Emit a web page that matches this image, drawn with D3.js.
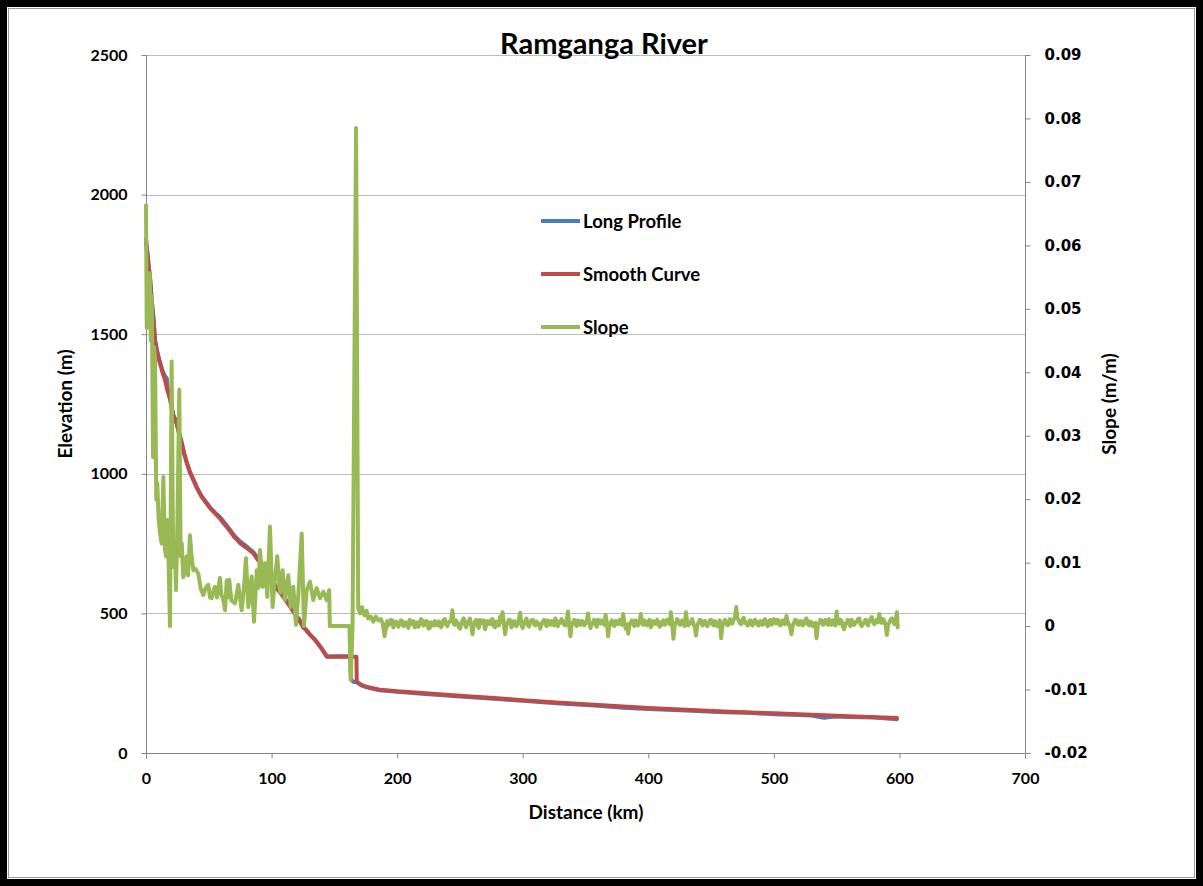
<!DOCTYPE html>
<html>
<head>
<meta charset="utf-8">
<script src="https://cdn.jsdelivr.net/npm/d3@7"></script>
<style>
  html, body { margin: 0; padding: 0; background: #fff; }
  svg { display: block; }
</style>
</head>
<body>
<svg id="chart" width="1203" height="886"></svg>
<script>
// ---------------- DATA ----------------
const title = "Ramganga River";
const seriesNames = ["Long Profile", "Smooth Curve", "Slope"];
const xTicks = [0, 100, 200, 300, 400, 500, 600, 700];
const yLeftTicks = [0, 500, 1000, 1500, 2000, 2500];
const yRightTicks = [-0.02, -0.01, 0, 0.01, 0.02, 0.03, 0.04, 0.05, 0.06, 0.07, 0.08, 0.09];

// Long Profile: [distance km, elevation m]
const longProfile = [
  [0,1840],[1,1800],[2,1752],[3.2,1705],[4.5,1625],[5.8,1565],[7.2,1480],[9,1438],[11.1,1400],
  [13,1372],[15,1350],[16.5,1342],[17.5,1300],[19.1,1270],[21.7,1212],[24.4,1183],[26,1152],
  [28.4,1113],[30.5,1072],[32.4,1042],[35,1007],[37.7,980],[41,947],[44.3,920],[48,898],[51,880],
  [55,861],[58.9,845],[62,828],[66.9,800],[70,780],[74.9,758],[80,740],[85.4,720],[89,698],
  [93.4,672],[98.7,633],[104,594],[109.3,563],[114.7,527],[118,505],[120,490],[122,480],
  [125.3,448],[128,440],[130.6,424],[134.6,406],[140,374],[144,346],[162,347],[162.5,350],
  [163.2,265],[165,255],[167.8,253],[172,241],[176,235],[180,231],[186,225],[200,219],[220,212],
  [250,202],[280,193],[300,187],[330,177],[360,169],[380,162],[400,158],[430,152],[460,146],
  [480,144],[500,139],[520,136],[530,134],[540,126],[548,131],[560,129],[580,127],[598,121]
];

// Smooth Curve: [distance km, elevation m]
const smoothCurve = [
  [0,1825],[1,1792],[2,1745],[3.2,1700],[4.5,1620],[5.8,1560],[7.2,1475],[9,1430],[11.1,1397],
  [13,1365],[15.1,1336],[17,1300],[19.1,1268],[21.7,1210],[24.4,1180],[26,1150],[28.4,1110],
  [30.5,1070],[32.4,1040],[35,1005],[37.7,978],[41,945],[44.3,918],[48,895],[51,877],[55,858],
  [58.9,840],[62,822],[66.9,795],[70,775],[74.9,752],[80,735],[85.4,716],[89,692],[93.4,667],
  [98.7,628],[104,590],[109.3,560],[114.7,524],[120,488],[125.3,452],[130.6,423],[134.6,405],
  [140,373],[144,345],[167.6,345],[167.8,255],[172,243],[176,237],[180,233],[186,227],[200,221],
  [220,215],[250,205],[280,196],[300,189],[330,180],[360,172],[400,161],[430,155],[460,149],
  [500,142],[530,137],[560,132],[598,125]
];

// Slope, upper reach: [distance km, slope m/m]
const slopeHead = [
  [0,0.0663],[0.6,0.047],[1.2,0.054],[2.0,0.049],[3.0,0.0556],[3.8,0.045],[4.6,0.052],[5.6,0.0266],
  [6.4,0.044],[7.2,0.042],[8.2,0.0199],[9.0,0.0225],[10,0.017],[11.1,0.0147],[12.5,0.013],
  [13.8,0.0235],[15.1,0.012],[16,0.011],[17,0.0167],[18,0.010],[19.1,0.0],[20.4,0.0417],
  [21.7,0.0093],[23,0.012],[23.9,0.0057],[25,0.016],[26.5,0.0373],[27.6,0.011],[28.5,0.013],
  [29.7,0.0077],[31,0.009],[32.4,0.011],[33.5,0.008],[35,0.0143],[36.3,0.011],[37.7,0.0088],
  [39.5,0.009],[41.6,0.0083],[43.5,0.006],[45.6,0.0049],[47.5,0.006],[49.6,0.0065],[51,0.0045],
  [52.3,0.0044],[54,0.0058],[54.9,0.0062],[56.5,0.0045],[58.9,0.0076],[60,0.005],[61.6,0.0041],
  [62.9,0.0025],[64.3,0.0072],[65.5,0.0045],[66.3,0.0073],[68,0.004],[70.9,0.0036],[73.5,0.0065],
  [76.2,0.0025],[78,0.006],[79.6,0.0107],[81.5,0.003],[84.1,0.0078],[86,0.0007],[88.2,0.0088],
  [89.5,0.006],[90.8,0.012],[92.9,0.0062],[94.8,0.0099],[96.6,0.0046],[98.7,0.0157],[100.8,0.003],
  [102.7,0.0075],[104.5,0.011],[106.7,0.0052],[108.8,0.0088],[110.7,0.0041],[113.3,0.008],
  [115.2,0.003],[117.3,0.0062],[119.4,0.0002],[121.3,0.0049],[124,0.0146],[125.8,0.0],
  [128,0.0057],[130.6,0.007],[133.2,0.0041],[135.9,0.006],[138.6,0.0044],[141.2,0.0054],
  [143.8,0.0041],[145.9,0.0057],[146.4,0.0],[162,0.0],[163,-0.0085],[164.5,0.0],[167.3,0.0785],
  [169,0.0028],[170.5,0.002],[172,0.003],[174,0.0017],[175.7,0.0024],[177,0.0012],[179,0.0015],
  [181,0.0007],[183,0.0015],[185,0.0009],[187,0.0011],[188.5,0.0004]
];

// Slope, lower reach: values every 1 km from 190 km to 598 km
const slopeTailStart = 190;
const slopeTailStep = 1;
const slopeTail = [
  -0.0016,-0.0004,0.0008,0.0001,0.0004,0.0010,0.0009,-0.0002,0.0002,0.0007,0.0006,-0.0001,0.0003,0.0009,0.0008,0.0000,0.0001,0.0006,0.0005,-0.0003,
  0.0010,0.0004,0.0003,0.0008,-0.0002,0.0005,0.0006,-0.0001,0.0004,0.0011,0.0009,0.0001,0.0002,0.0008,0.0007,-0.0004,-0.0003,0.0006,0.0005,0.0001,
  0.0008,0.0002,0.0001,0.0007,0.0006,-0.0002,0.0003,0.0010,0.0011,0.0003,0.0000,0.0006,0.0007,0.0010,0.0025,0.0004,0.0002,0.0009,0.0005,-0.0001,
  -0.0004,0.0003,0.0009,0.0012,0.0003,-0.0002,0.0006,0.0008,0.0012,0.0001,-0.0013,0.0002,0.0007,0.0010,0.0002,-0.0003,0.0010,0.0005,0.0004,0.0009,
  -0.0005,0.0002,0.0008,0.0004,0.0003,0.0010,0.0011,0.0000,-0.0002,0.0007,0.0006,0.0001,0.0015,0.0006,0.0022,0.0003,-0.0013,0.0002,0.0005,0.0010,
  0.0009,-0.0002,0.0001,0.0008,0.0006,0.0000,0.0004,0.0011,0.0021,0.0002,-0.0003,0.0005,0.0008,0.0012,0.0002,-0.0001,0.0006,0.0009,0.0010,0.0003,
  0.0001,0.0007,0.0005,0.0002,-0.0004,0.0004,0.0007,0.0010,0.0003,0.0000,0.0009,0.0006,0.0002,0.0008,0.0006,0.0001,0.0012,0.0004,0.0000,0.0007,
  0.0005,0.0011,0.0008,0.0002,0.0001,0.0009,0.0023,0.0003,-0.0016,0.0002,0.0006,0.0010,0.0003,0.0000,0.0009,0.0005,0.0002,0.0008,0.0007,0.0001,
  0.0004,0.0008,0.0020,0.0004,-0.0003,0.0003,0.0006,0.0010,0.0002,-0.0001,0.0010,0.0007,0.0004,0.0009,0.0007,0.0002,0.0018,0.0005,-0.0016,0.0001,
  0.0005,0.0009,0.0002,0.0000,0.0008,0.0006,0.0003,0.0010,0.0006,0.0002,0.0019,0.0004,-0.0004,0.0003,-0.0012,0.0002,0.0006,0.0009,0.0003,0.0000,
  0.0009,0.0006,0.0001,0.0005,0.0019,0.0006,0.0002,0.0009,0.0007,0.0001,0.0004,0.0010,-0.0002,0.0003,0.0008,0.0005,0.0003,0.0010,0.0006,-0.0001,
  0.0001,0.0007,0.0009,0.0002,0.0004,0.0010,0.0007,0.0003,0.0022,0.0005,-0.0020,0.0001,0.0005,0.0011,0.0008,0.0002,0.0002,0.0009,0.0006,0.0000,
  0.0022,0.0006,0.0001,0.0004,0.0007,0.0011,0.0003,-0.0001,-0.0015,0.0002,0.0005,0.0010,0.0009,0.0001,0.0002,0.0008,0.0006,0.0000,0.0004,0.0009,
  0.0010,0.0003,0.0001,0.0008,0.0006,0.0000,0.0003,0.0009,-0.0019,0.0000,0.0004,0.0010,0.0007,0.0001,0.0002,0.0011,0.0008,0.0004,0.0011,0.0013,
  0.0030,0.0012,0.0009,0.0004,0.0003,0.0010,0.0013,0.0005,0.0006,0.0001,0.0002,0.0009,0.0008,0.0001,0.0004,0.0010,0.0007,0.0002,0.0001,0.0008,
  0.0006,0.0002,0.0009,0.0011,0.0003,0.0000,0.0007,0.0010,0.0002,0.0004,0.0011,0.0006,0.0004,0.0010,0.0008,0.0001,0.0002,0.0009,0.0006,0.0003,
  0.0016,0.0007,0.0003,-0.0002,-0.0013,0.0001,0.0005,0.0010,0.0009,0.0002,0.0002,0.0008,0.0007,0.0001,0.0004,0.0010,0.0012,0.0003,0.0001,0.0007,
  0.0006,0.0000,0.0003,0.0005,-0.0019,0.0001,0.0005,0.0010,0.0009,0.0002,0.0003,0.0010,0.0007,0.0002,0.0011,0.0006,0.0002,0.0009,0.0006,0.0001,
  0.0023,0.0005,0.0004,0.0010,0.0008,-0.0001,-0.0005,0.0003,0.0006,0.0010,0.0003,0.0000,0.0010,0.0007,0.0002,0.0005,0.0007,0.0011,0.0012,0.0003,
  0.0000,0.0004,0.0006,0.0010,0.0004,0.0001,0.0009,0.0011,0.0014,0.0006,0.0003,0.0008,0.0010,0.0006,0.0019,0.0008,0.0005,0.0011,0.0008,0.0002,
  -0.0014,0.0002,0.0006,0.0010,0.0012,0.0007,0.0003,0.0009,0.0022
];
const slopeEnd = [[598.6,-0.0002]];

// ---------------- DRAW ----------------
const W = 1203, H = 886;
const plot = { left: 146, right: 1025, top: 55, bottom: 753 };
const colors = { blue: "#4A7EBB", red: "#BE4B48", green: "#98B954" };
const calibri = "Lato, 'Open Sans', sans-serif";
const lineW = 4;

const svg = d3.select("#chart");

const x = d3.scaleLinear().domain([0, 700]).range([plot.left, plot.right]);
const yL = d3.scaleLinear().domain([0, 2500]).range([plot.bottom, plot.top]);
const yR = d3.scaleLinear().domain([-0.02, 0.09]).range([plot.bottom, plot.top]);

// background & frame
svg.append("rect").attr("x", 0).attr("y", 0).attr("width", W).attr("height", H).attr("fill", "#fff");
svg.append("rect").attr("x", 8.5).attr("y", 8.5).attr("width", W - 17).attr("height", H - 17)
  .attr("fill", "none").attr("stroke", "#9a9a9a").attr("stroke-width", 1);
svg.append("rect").attr("x", 3.5).attr("y", 3.5).attr("width", W - 7).attr("height", H - 7)
  .attr("fill", "none").attr("stroke", "#000").attr("stroke-width", 7);

// gridlines (left axis majors)
svg.append("g").selectAll("line").data(yLeftTicks.filter(d => d > 0)).join("line")
  .attr("x1", plot.left).attr("x2", plot.right)
  .attr("y1", d => Math.round(yL(d)) + 0.5).attr("y2", d => Math.round(yL(d)) + 0.5)
  .attr("stroke", "#bdbdbd").attr("stroke-width", 1.2);

// axes
const axisColor = "#868686";
const hyphenFmt = d => Math.abs(d) < 1e-9 ? "0" : (d < 0 ? "-" : "") + Math.abs(d).toFixed(2);
const gx = svg.append("g").attr("transform", `translate(0,${plot.bottom + 0.5})`)
  .call(d3.axisBottom(x).tickValues(xTicks).tickSize(5).tickPadding(14).tickFormat(d3.format("d")));
const gl = svg.append("g").attr("transform", `translate(${plot.left + 0.5},0)`)
  .call(d3.axisLeft(yL).tickValues(yLeftTicks).tickSize(5).tickPadding(14).tickFormat(d3.format("d")));
const gr = svg.append("g").attr("transform", `translate(${plot.right + 0.5},0)`)
  .call(d3.axisRight(yR).tickValues(yRightTicks).tickSize(5).tickPadding(14).tickFormat(hyphenFmt));

[gx, gl, gr].forEach(g => {
  g.select(".domain").attr("stroke", axisColor).attr("stroke-width", 1);
  g.selectAll(".tick line").attr("stroke", axisColor).attr("stroke-width", 1);
});
gx.selectAll(".tick text").attr("font-family", calibri).attr("font-weight", "bold")
  .attr("font-size", 16).attr("fill", "#000");
gl.selectAll(".tick text").attr("font-family", calibri).attr("font-weight", "bold")
  .attr("font-size", 16).attr("fill", "#000");
gr.selectAll(".tick text").attr("font-family", "'DejaVu Sans', Verdana, sans-serif").attr("font-weight", "bold")
  .attr("font-size", 15).attr("fill", "#000");
gl.select(".domain").attr("d", `M0,${plot.top}V${plot.bottom}`);
gr.select(".domain").attr("d", `M0,${plot.top}V${plot.bottom}`);
gx.select(".domain").attr("d", `M${plot.left},0H${plot.right}`);

// series
const lineL = d3.line().x(d => x(d[0])).y(d => yL(d[1]));
const lineR = d3.line().x(d => x(d[0])).y(d => yR(d[1]));

const slopeData = slopeHead
  .concat(slopeTail.map((v, i) => [slopeTailStart + i * slopeTailStep, v]))
  .concat(slopeEnd);

const plotG = svg.append("g").attr("fill", "none")
  .attr("stroke-linejoin", "round").attr("stroke-linecap", "round");
plotG.append("path").datum(longProfile).attr("d", lineL)
  .attr("stroke", colors.blue).attr("stroke-width", lineW);
plotG.append("path").datum(smoothCurve).attr("d", lineL)
  .attr("stroke", colors.red).attr("stroke-width", lineW);
plotG.append("path").datum(slopeData).attr("d", lineR)
  .attr("stroke", colors.green).attr("stroke-width", lineW);

// title
svg.append("text").attr("x", 604).attr("y", 54).attr("text-anchor", "middle")
  .attr("font-family", calibri).attr("font-weight", "bold").attr("font-size", 29)
  .attr("fill", "#000").text(title);

// axis titles
const axisTitleSize = 19;
svg.append("text").attr("x", 586).attr("y", 819).attr("text-anchor", "middle")
  .attr("font-family", calibri).attr("font-weight", "bold").attr("font-size", axisTitleSize)
  .attr("fill", "#000").text("Distance (km)");
svg.append("text").attr("transform", `translate(72,404) rotate(-90)`).attr("text-anchor", "middle")
  .attr("font-family", calibri).attr("font-weight", "bold").attr("font-size", axisTitleSize)
  .attr("fill", "#000").text("Elevation (m)");
svg.append("text").attr("transform", `translate(1116,404) rotate(-90)`).attr("text-anchor", "middle")
  .attr("font-family", calibri).attr("font-weight", "bold").attr("font-size", axisTitleSize)
  .attr("fill", "#000").text("Slope (m/m)");

// legend
const legendColors = [colors.blue, colors.red, colors.green];
const legendY = [221, 274, 327];
const lg = svg.append("g");
seriesNames.forEach((name, i) => {
  lg.append("line").attr("x1", 541).attr("x2", 580).attr("y1", legendY[i]).attr("y2", legendY[i])
    .attr("stroke", legendColors[i]).attr("stroke-width", lineW);
  lg.append("text").attr("x", 583).attr("y", legendY[i]).attr("dy", "0.36em")
    .attr("font-family", calibri).attr("font-weight", "bold").attr("font-size", 18.5)
    .attr("fill", "#000").text(name);
});
</script>
</body>
</html>
